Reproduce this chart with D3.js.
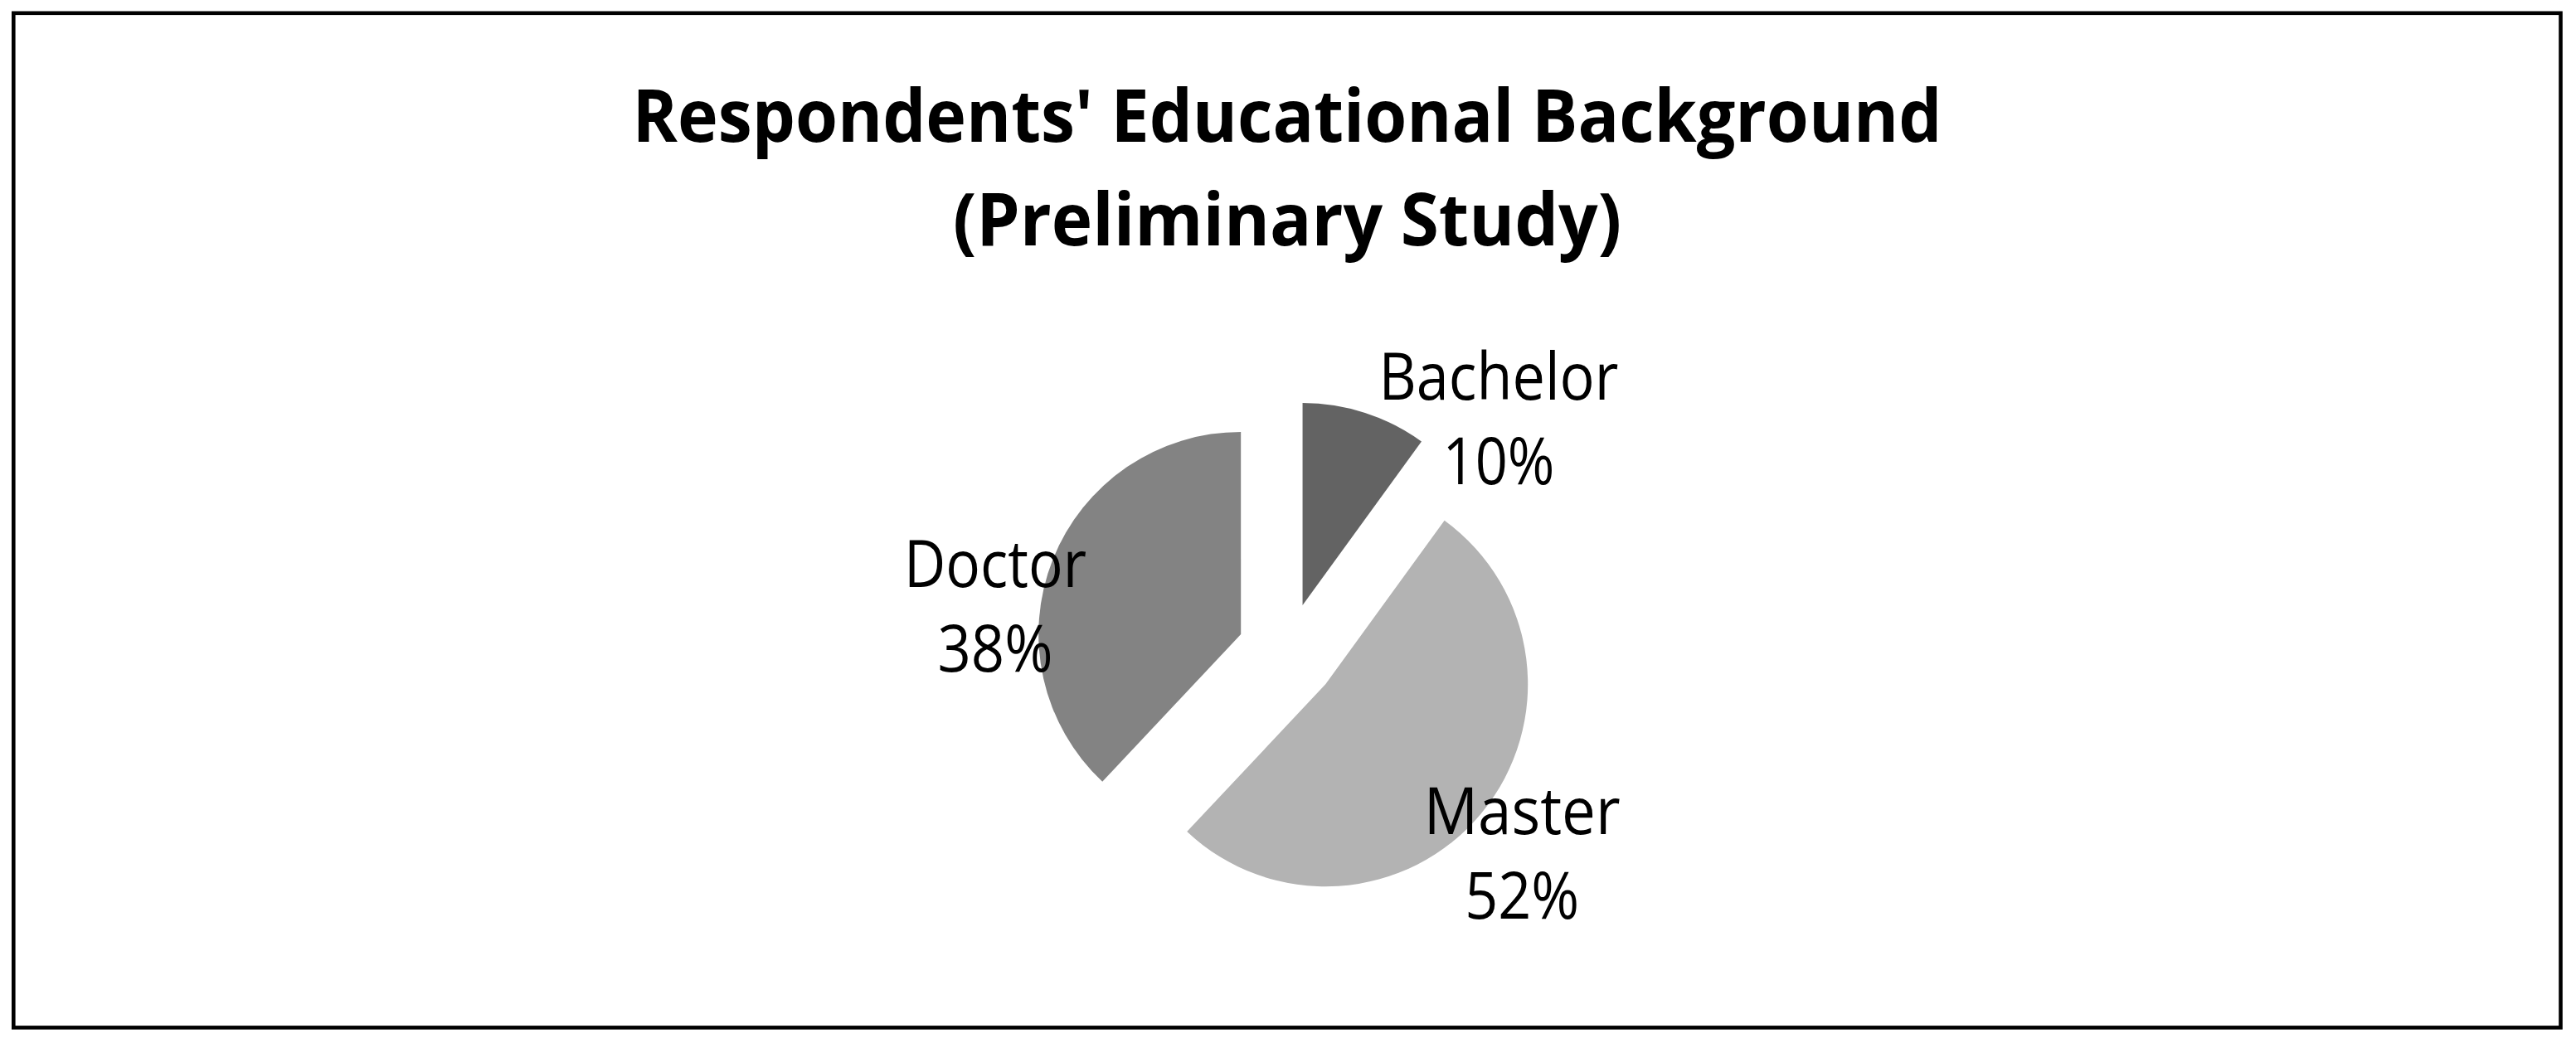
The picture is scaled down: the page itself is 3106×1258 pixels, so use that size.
<!DOCTYPE html>
<html>
<head>
<meta charset="utf-8">
<script src="https://cdn.jsdelivr.net/npm/d3@7"></script>
<style>
  html, body { margin: 0; padding: 0; background: #fff; }
  text { font-family: "Open Sans", "Noto Sans", sans-serif; fill: #000; }
</style>
</head>
<body>
<div id="chart"></div>
<script>
// data
var categories = ["Bachelor", "Master", "Doctor"];
var shares = [10, 52, 38];
var sliceColors = ["#636363", "#b3b3b3", "#838383"];
var titleLines = ["Respondents' Educational Background", "(Preliminary Study)"];

var W = 3106, H = 1258;
var cx = 1552, cy = 787,      // pie centre
    radius = 244,
    explode = 60;

// label placement (angle in degrees from 12 o'clock, distance from slice centre)
var labelLayout = {
  Bachelor: { angle: 46.5, dist: 326 },
  Master:   { angle: 130.8, dist: 313 },
  Doctor:   { angle: 276.3, dist: 298 }
};
// rendered widths of the original (Calibri) text
var textWidths = {
  "Bachelor": 289, "10%": 135,
  "Master": 237, "52%": 138,
  "Doctor": 220, "38%": 139
};

var data = categories.map(function(c, i) {
  return { name: c, value: shares[i], color: sliceColors[i] };
});

var svg = d3.select("#chart").append("svg")
    .attr("width", W)
    .attr("height", H);

svg.append("rect")
    .attr("width", W).attr("height", H)
    .attr("fill", "#fff");

// frame
svg.append("rect")
    .attr("x", 16.3).attr("y", 15.8)
    .attr("width", 3071.2).attr("height", 1223.6)
    .attr("fill", "none")
    .attr("stroke", "#000")
    .attr("stroke-width", 4.6);

// title
var title = svg.append("g");
var titleWidths = [1579, 806];
var titleBase = [171, 296];
titleLines.forEach(function(t, i) {
  title.append("text")
    .attr("x", cx)
    .attr("y", titleBase[i])
    .attr("text-anchor", "middle")
    .attr("font-size", 87)
    .attr("font-weight", "bold")
    .attr("textLength", titleWidths[i])
    .attr("lengthAdjust", "spacingAndGlyphs")
    .text(t);
});

var pie = d3.pie()
    .value(function(d) { return d.value; })
    .sort(null);

var arc = d3.arc()
    .innerRadius(0)
    .outerRadius(radius);

var arcs = pie(data);

var g = svg.append("g")
    .attr("transform", "translate(" + cx + "," + cy + ")");

var slices = g.selectAll("g.slice")
    .data(arcs)
    .enter()
    .append("g")
    .attr("class", "slice")
    .attr("transform", function(d) {
      var mid = (d.startAngle + d.endAngle) / 2;
      return "translate(" + (explode * Math.sin(mid)) + "," + (-explode * Math.cos(mid)) + ")";
    });

slices.append("path")
    .attr("d", arc)
    .attr("fill", function(d) { return d.data.color; });

// labels
slices.each(function(d) {
  var lay = labelLayout[d.data.name];
  var a = lay.angle * Math.PI / 180;
  var lx = lay.dist * Math.sin(a),
      ly = -lay.dist * Math.cos(a);
  var lines = [d.data.name, d.data.value + "%"];
  var offs = [-24, 78];
  var sel = d3.select(this);
  lines.forEach(function(t, i) {
    sel.append("text")
      .attr("x", lx)
      .attr("y", ly + offs[i])
      .attr("text-anchor", "middle")
      .attr("font-size", 78)
      .attr("textLength", textWidths[t])
      .attr("lengthAdjust", "spacingAndGlyphs")
      .text(t);
  });
});
</script>
</body>
</html>
